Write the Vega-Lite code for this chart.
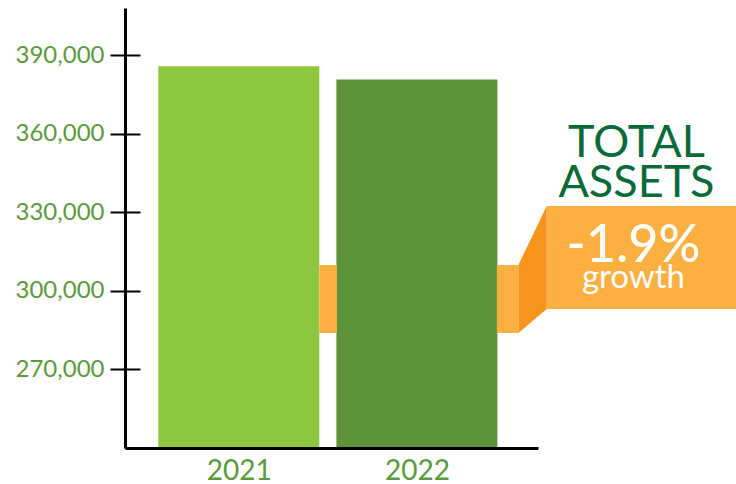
{
  "$schema": "https://vega.github.io/schema/vega-lite/v6.json",
  "width": 413,
  "height": 440,
  "autosize": {"type": "none"},
  "padding": {"left": 125, "top": 8, "right": 198, "bottom": 36},
  "background": "white",
  "config": {
    "view": {"stroke": null},
    "font": "Lato"
  },
  "datasets": {
    "assets": [
      {"year": 2021, "total": 385800},
      {"year": 2022, "total": 380700}
    ],
    "connectors": [
      {"x": 2021.452, "x2": 2021.551, "lo": 283900, "hi": 309900},
      {"x": 2022.449, "x2": 2022.57, "lo": 283900, "hi": 309900},
      {"x": 2022.729, "x2": 2023.9, "lo": 293100, "hi": 332400}
    ],
    "ramp": [
      {"v": 283900, "a": 2022.57, "b": 2022.57},
      {"v": 293100, "a": 2022.57, "b": 2022.729},
      {"v": 309900, "a": 2022.57, "b": 2022.729},
      {"v": 332400, "a": 2022.729, "b": 2022.729}
    ],
    "title": [
      {"label": "TOTAL", "x": 2023.233, "y": 351100},
      {"label": "ASSETS", "x": 2023.233, "y": 335840}
    ],
    "growth": [
      {"label": "-1.9%", "x": 2023.216, "y": 311020}
    ],
    "growthword": [
      {"label": "growth", "x": 2023.216, "y": 301100}
    ]
  },
  "layer": [
    {
      "data": {"name": "assets"},
      "mark": {"type": "bar", "width": 161},
      "encoding": {
        "x": {
          "field": "year",
          "type": "quantitative",
          "scale": {"domain": [2020.389, 2022.652], "nice": false, "zero": false},
          "axis": {
            "title": null,
            "values": [2021, 2022],
            "format": "d",
            "ticks": false,
            "grid": false,
            "domainColor": "black",
            "domainWidth": 3,
            "labelColor": "#5a9a3c",
            "labelFontSize": 28,
            "labelPadding": 9,
            "labelFont": "Lato",
            "zindex": 1
          }
        },
        "y": {
          "field": "total",
          "type": "quantitative",
          "scale": {"domain": [240000, 408000], "nice": false, "zero": false},
          "axis": {
            "title": null,
            "values": [270000, 300000, 330000, 360000, 390000],
            "format": ",.0f",
            "domainColor": "black",
            "domainWidth": 3,
            "tickColor": "black",
            "tickWidth": 2,
            "tickSize": 15,
            "grid": true,
            "gridColor": "black",
            "gridWidth": 2,
            "gridDash": [15, 2000],
            "gridOpacity": 1,
            "labelColor": "#5a9a3c",
            "labelFontSize": 24,
            "labelPadding": 6,
            "labelFont": "Lato"
          }
        },
        "y2": {"datum": 240000},
        "color": {
          "field": "year",
          "type": "ordinal",
          "scale": {"domain": [2021, 2022], "range": ["#8dc63f", "#5d923b"]},
          "legend": null
        }
      }
    },
    {
      "data": {"name": "connectors"},
      "mark": {"type": "rect", "color": "#fbb041"},
      "encoding": {
        "x": {"field": "x", "type": "quantitative"},
        "x2": {"field": "x2"},
        "y": {"field": "lo", "type": "quantitative"},
        "y2": {"field": "hi"}
      }
    },
    {
      "data": {"name": "ramp"},
      "mark": {"type": "area", "orient": "horizontal", "color": "#f7941e", "interpolate": "linear"},
      "encoding": {
        "y": {"field": "v", "type": "quantitative"},
        "x": {"field": "a", "type": "quantitative"},
        "x2": {"field": "b"}
      }
    },
    {
      "data": {"name": "title"},
      "mark": {"type": "text", "align": "center", "baseline": "alphabetic", "fontSize": 45, "color": "#0a6a3a", "font": "Lato"},
      "encoding": {
        "x": {"field": "x", "type": "quantitative"},
        "y": {"field": "y", "type": "quantitative"},
        "text": {"field": "label"}
      }
    },
    {
      "data": {"name": "growth"},
      "mark": {"type": "text", "align": "center", "baseline": "alphabetic", "fontSize": 52, "fontWeight": 500, "color": "white", "font": "Lato"},
      "encoding": {
        "x": {"field": "x", "type": "quantitative"},
        "y": {"field": "y", "type": "quantitative"},
        "text": {"field": "label"}
      }
    },
    {
      "data": {"name": "growthword"},
      "mark": {"type": "text", "align": "center", "baseline": "alphabetic", "fontSize": 33, "color": "white", "font": "Lato"},
      "encoding": {
        "x": {"field": "x", "type": "quantitative"},
        "y": {"field": "y", "type": "quantitative"},
        "text": {"field": "label"}
      }
    }
  ]
}
